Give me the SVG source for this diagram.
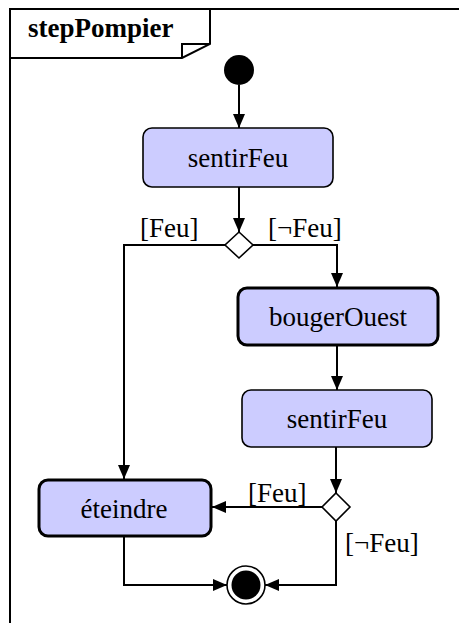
<svg xmlns="http://www.w3.org/2000/svg" width="459" height="623" viewBox="0 0 459 623">
<defs>
<marker id="arr" viewBox="0 0 14 12" refX="14" refY="6" markerWidth="14" markerHeight="12" markerUnits="userSpaceOnUse" orient="auto">
<path d="M0,0 L14,6 L0,12 Z" fill="#000"/>
</marker>
</defs>
<style>
.frame{fill:none;stroke:#000;stroke-width:2}
.act{fill:#ccccff;stroke:#000;stroke-width:1.6}
.act2{fill:#ccccff;stroke:#000;stroke-width:3}
.lbl{font-family:"Liberation Serif","Times New Roman",serif;font-size:27px;fill:#000}
.ttl{font-family:"Liberation Serif","Times New Roman",serif;font-size:27px;font-weight:bold;fill:#000}
.edge{fill:none;stroke:#000;stroke-width:2}
.dec{fill:#fff;stroke:#000;stroke-width:1.6}
</style>
<rect width="459" height="623" fill="#fff"/>
<g id="frame">
<rect class="frame" x="10" y="9" width="460" height="630"/>
<path class="frame" d="M10,58 L182,58 L210,44 L210,9"/>
<path class="frame" d="M182,58 L182,44 L210,44" stroke-width="1.5"/>
<text class="ttl" x="28" y="37">stepPompier</text>
</g>
<g id="connectors">
<path class="edge" d="M239,85 L239,128" marker-end="url(#arr)"/>
<path class="edge" d="M239,187 L239,232" marker-end="url(#arr)"/>
<path class="edge" d="M225,245 L124,245 L124,479" marker-end="url(#arr)"/>
<path class="edge" d="M253,245 L337,245 L337,287" marker-end="url(#arr)"/>
<path class="edge" d="M337,345 L337,390" marker-end="url(#arr)"/>
<path class="edge" d="M336,447 L336,493" marker-end="url(#arr)"/>
<path class="edge" d="M322,507 L212,507" marker-end="url(#arr)"/>
<path class="edge" d="M124,536 L124,585 L227,585" marker-end="url(#arr)"/>
<path class="edge" d="M336,521 L336,585 L265,585" marker-end="url(#arr)"/>
<text class="lbl" x="140" y="237">[Feu]</text>
<text class="lbl" x="268" y="237">[¬Feu]</text>
<text class="lbl" x="248" y="502">[Feu]</text>
<text class="lbl" x="345" y="552">[¬Feu]</text>
</g>
<g id="initial">
<circle cx="239" cy="70" r="15" fill="#000"/>
</g>
<g id="sentirFeu1">
<rect class="act" x="143" y="128" width="190" height="59" rx="9"/>
<text class="lbl" x="238" y="167" text-anchor="middle">sentirFeu</text>
</g>
<g id="decision1">
<path class="dec" d="M239,232 L253,245 L239,258 L225,245 Z"/>
</g>
<g id="bougerOuest">
<rect class="act2" x="238" y="288" width="200" height="57" rx="9"/>
<text class="lbl" x="338" y="326" text-anchor="middle">bougerOuest</text>
</g>
<g id="sentirFeu2">
<rect class="act" x="242" y="390" width="190" height="57" rx="9"/>
<text class="lbl" x="337" y="428" text-anchor="middle">sentirFeu</text>
</g>
<g id="decision2">
<path class="dec" d="M336,493 L350,507 L336,521 L322,507 Z"/>
</g>
<g id="eteindre">
<rect class="act2" x="39" y="480" width="172" height="56" rx="9"/>
<text class="lbl" x="124" y="518" text-anchor="middle">éteindre</text>
</g>
<g id="final">
<circle cx="246" cy="585" r="19" fill="#fff" stroke="#000" stroke-width="1.6"/>
<circle cx="246" cy="585" r="14.5" fill="#000"/>
</g>
</svg>
